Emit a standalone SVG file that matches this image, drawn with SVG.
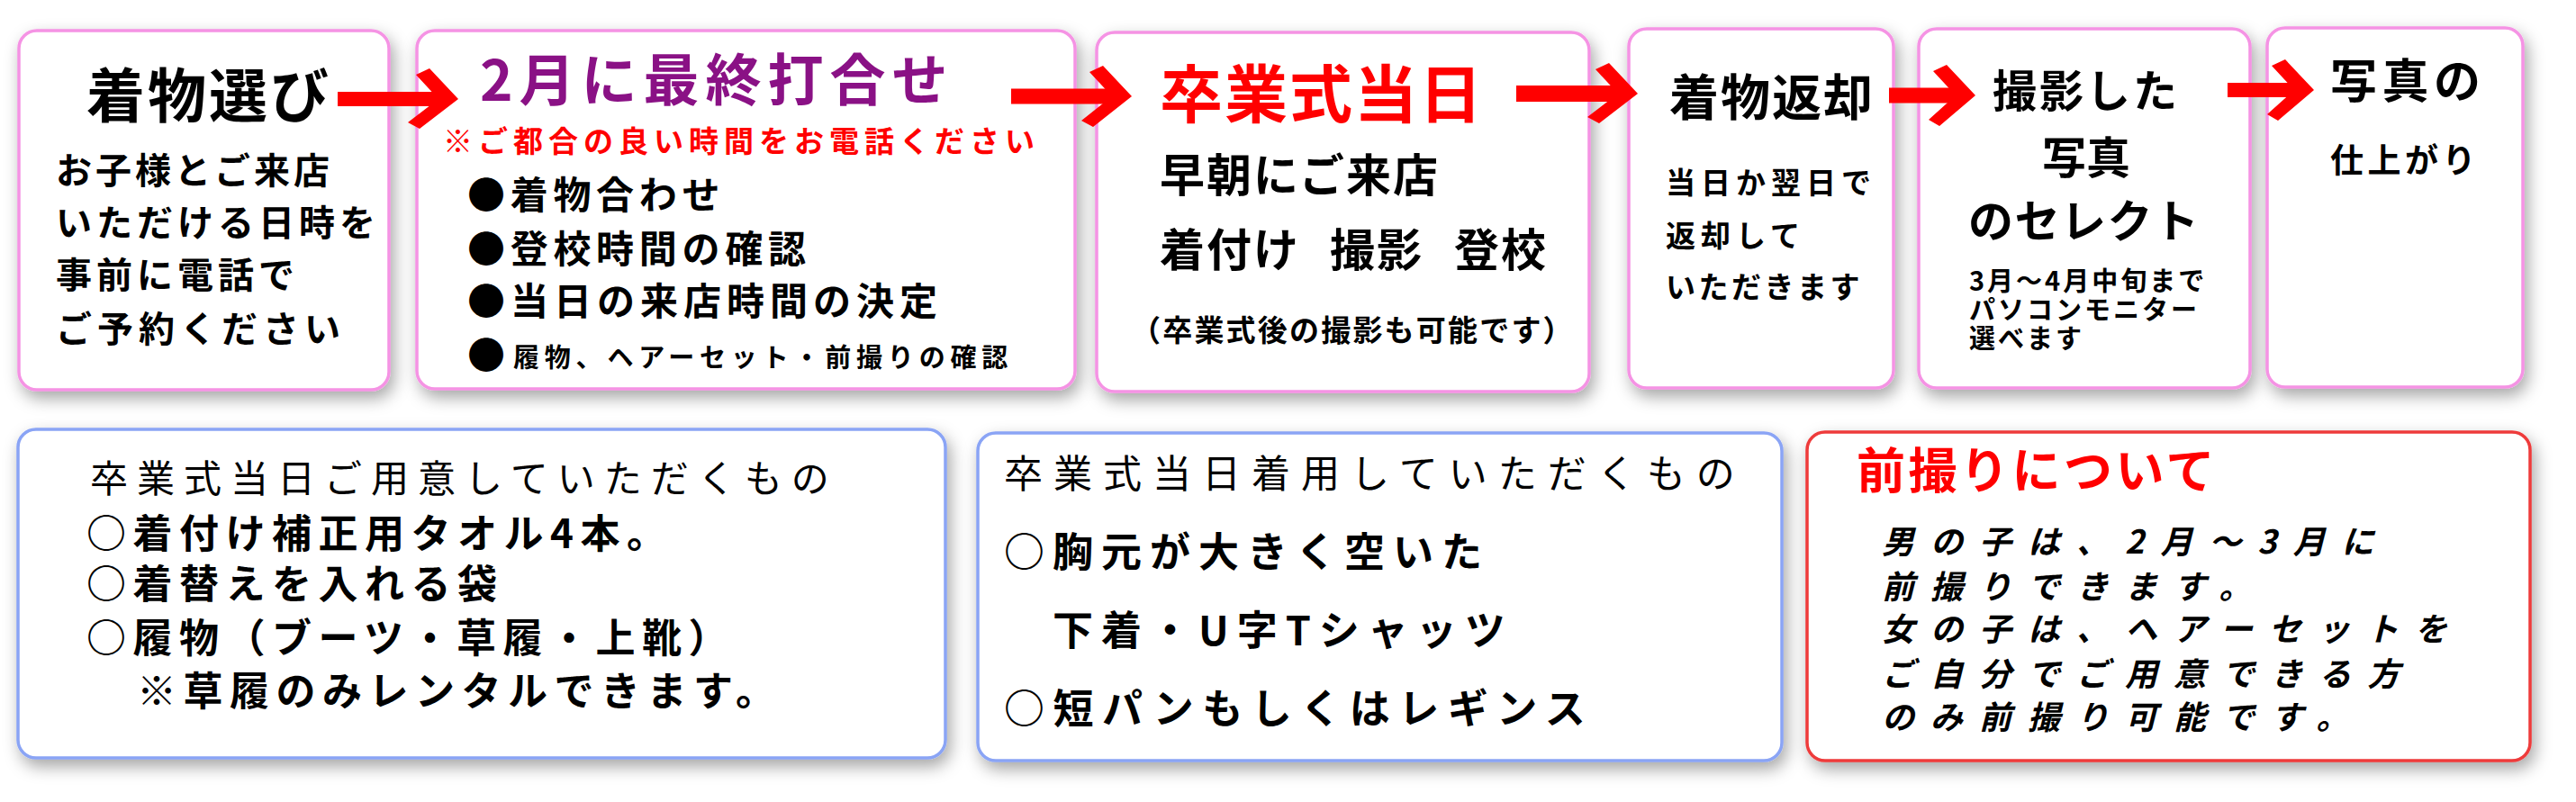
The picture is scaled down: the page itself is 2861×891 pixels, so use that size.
<svg xmlns="http://www.w3.org/2000/svg" width="2861" height="891" viewBox="0 0 2861 891">
<defs>
<filter id="sh" x="-10%" y="-10%" width="125%" height="130%">
<feDropShadow dx="4" dy="8" stdDeviation="9" flood-color="#000" flood-opacity="0.35"/>
</filter>
<style>
text{font-family:"Noto Sans CJK JP","Noto Sans CJK SC",sans-serif;font-weight:bold;fill:#000}
.box{fill:#fff;stroke-width:3.5;filter:url(#sh)}
.pink{stroke:#f593e4}
.blue{stroke:#8aa4f5}
.redb{stroke:#ee3a3a}
.arrow{fill:#ff0000}
.min{font-weight:400}
.red{fill:#ff0000}
.pur{fill:#8a1185}
.it{font-style:italic}
</style>
</defs>
<rect width="2861" height="891" fill="#fff"/>

<g id="node-kimono-erabi">
<rect class="box pink" x="21" y="34" width="411" height="399" rx="20"/>
<text x="96" y="130" font-size="65" letter-spacing="3">着物選び</text>
<text x="62" y="204" font-size="40" letter-spacing="4">お子様とご来店</text>
<text x="62" y="262" font-size="40" letter-spacing="5">いただける日時を</text>
<text x="62" y="320" font-size="40" letter-spacing="5">事前に電話で</text>
<text x="62" y="380" font-size="40" letter-spacing="6">ご予約ください</text>
</g>

<g id="node-uchiawase">
<rect class="box pink" x="463" y="34" width="731" height="398" rx="20"/>
<text class="pur" x="533" y="112" font-size="62" letter-spacing="7">2月に最終打合せ</text>
<text class="red" x="492" y="169" font-size="33" letter-spacing="6">※ご都合の良い時間をお電話ください</text>
<text x="519" y="232" font-size="42" letter-spacing="5.7">●着物合わせ</text>
<text x="519" y="292" font-size="42" letter-spacing="5.7">●登校時間の確認</text>
<text x="519" y="350" font-size="42" letter-spacing="6">●当日の来店時間の決定</text>
<text x="519" y="410" font-size="42">●<tspan x="570" y="408" font-size="29" letter-spacing="5.8">履物、ヘアーセット・前撮りの確認</tspan></text>
</g>

<g id="node-tojitsu">
<rect class="box pink" x="1218" y="36" width="547" height="399" rx="20"/>
<text class="red" x="1288" y="131" font-size="70" letter-spacing="2">卒業式当日</text>
<text x="1288" y="213" font-size="50" letter-spacing="2">早朝にご来店</text>
<text y="296" font-size="50" letter-spacing="2"><tspan x="1288">着付け</tspan><tspan x="1477">撮影</tspan><tspan x="1615">登校</tspan></text>
<text x="1256" y="379" font-size="33" letter-spacing="2.2">（卒業式後の撮影も可能です）</text>
</g>

<g id="node-henkyaku">
<rect class="box pink" x="1809" y="32" width="294" height="399" rx="20"/>
<text x="1854" y="128" font-size="55" letter-spacing="2">着物返却</text>
<text x="1850" y="215" font-size="33" letter-spacing="6">当日か翌日で</text>
<text x="1850" y="274" font-size="33" letter-spacing="6">返却して</text>
<text x="1850" y="331" font-size="33" letter-spacing="3.5">いただきます</text>
</g>

<g id="node-select">
<rect class="box pink" x="2131" y="32" width="368" height="399" rx="20"/>
<text x="2213" y="119" font-size="49" letter-spacing="3">撮影した</text>
<text x="2268" y="193" font-size="49" letter-spacing="0">写真</text>
<text x="2186" y="264" font-size="50" letter-spacing="1.5">のセレクト</text>
<text x="2187" y="323" font-size="29" letter-spacing="3">3月～4月中旬まで</text>
<text x="2187" y="355" font-size="29" letter-spacing="3">パソコンモニター</text>
<text x="2187" y="387" font-size="29" letter-spacing="3">選べます</text>
</g>

<g id="node-shiagari">
<rect class="box pink" x="2518" y="31" width="284" height="399" rx="20"/>
<text x="2588" y="109" font-size="52" letter-spacing="5.5">写真の</text>
<text x="2588" y="192" font-size="37" letter-spacing="4.5">仕上がり</text>
</g>

<g id="node-goyoi">
<rect class="box blue" x="20" y="477" width="1030" height="365" rx="20"/>
<text class="min" x="100" y="547" font-size="42" letter-spacing="10">卒業式当日ご用意していただくもの</text>
<text x="96" y="609" font-size="44" letter-spacing="7.5">○着付け補正用タオル4本。</text>
<text x="96" y="665" font-size="44" letter-spacing="7.5">○着替えを入れる袋</text>
<text x="96" y="725" font-size="44" letter-spacing="7.5">○履物（ブーツ・草履・上靴）</text>
<text x="152" y="784" font-size="44" letter-spacing="7.5">※草履のみレンタルできます。</text>
</g>

<g id="node-chakuyo">
<rect class="box blue" x="1086" y="481" width="893" height="364" rx="20"/>
<text class="min" x="1115" y="542" font-size="43" letter-spacing="12">卒業式当日着用していただくもの</text>
<text x="1115" y="630" font-size="45" letter-spacing="9">○胸元が大きく空いた</text>
<text x="1169" y="717" font-size="45" letter-spacing="9">下着・U字Tシャッツ</text>
<text x="1115" y="804" font-size="45" letter-spacing="9.5">○短パンもしくはレギンス</text>
</g>

<g id="node-maedori">
<rect class="box redb" x="2007" y="480" width="803" height="365" rx="20"/>
<text class="red" x="2062" y="543" font-size="54" letter-spacing="3.5">前撮りについて</text>
<text class="it" x="2090" y="615" font-size="36" letter-spacing="18">男の子は、2月～3月に</text>
<text class="it" x="2090" y="665" font-size="36" letter-spacing="18">前撮りできます。</text>
<text class="it" x="2090" y="712" font-size="36" letter-spacing="18">女の子は、ヘアーセットを</text>
<text class="it" x="2090" y="762" font-size="36" letter-spacing="18">ご自分でご用意できる方</text>
<text class="it" x="2090" y="810" font-size="36" letter-spacing="18">のみ前撮り可能です。</text>
</g>

<g id="connectors">
<g class="arrow" transform="translate(509,110)">
<rect x="-134" y="-8" width="116" height="16"/>
<polygon points="-32,-34 0,0 -43,33 -56,26 -22,0 -47,-27"/>
</g>
<g class="arrow" transform="translate(1257,107)">
<rect x="-134" y="-8.5" width="116" height="17"/>
<polygon points="-32,-34 0,0 -43,34 -56,27 -22,0 -47,-27"/>
</g>
<g class="arrow" transform="translate(1819,104)">
<rect x="-135" y="-9" width="117" height="18"/>
<polygon points="-32,-34 0,0 -43,33 -56,26 -22,0 -47,-27"/>
</g>
<g class="arrow" transform="translate(2194,106)">
<rect x="-96" y="-8.5" width="78" height="17"/>
<polygon points="-32,-34 0,0 -40,34 -52,27 -22,0 -47,-27"/>
</g>
<g class="arrow" transform="translate(2570,100)">
<rect x="-96" y="-8" width="78" height="16"/>
<polygon points="-32,-34 0,0 -40,34 -52,27 -22,0 -47,-27"/>
</g>
</g>
</svg>
